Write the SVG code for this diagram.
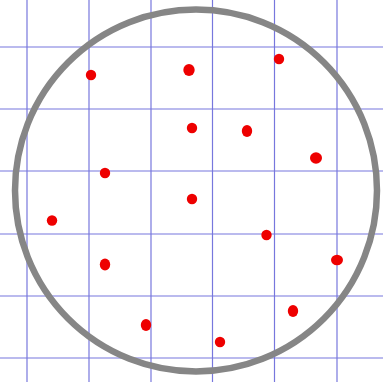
<svg xmlns="http://www.w3.org/2000/svg" width="383" height="382" viewBox="0 0 383 382">
<style>
.g{stroke:#7777dd;stroke-width:1.2;fill:none}
.c{stroke:#868686;stroke-width:6.5;fill:none}
.d{fill:#ee0000}
</style>
<rect width="383" height="382" fill="#ffffff"/>
<g id="grid" class="g">
<line x1="27" y1="0" x2="27" y2="382"/>
<line x1="89" y1="0" x2="89" y2="382"/>
<line x1="151" y1="0" x2="151" y2="382"/>
<line x1="212.5" y1="0" x2="212.5" y2="382"/>
<line x1="274.5" y1="0" x2="274.5" y2="382"/>
<line x1="337" y1="0" x2="337" y2="382"/>
<line x1="0" y1="47" x2="383" y2="47"/>
<line x1="0" y1="109" x2="383" y2="109"/>
<line x1="0" y1="171" x2="383" y2="171"/>
<line x1="0" y1="234" x2="383" y2="234"/>
<line x1="0" y1="296" x2="383" y2="296"/>
<line x1="0" y1="358" x2="383" y2="358"/>
</g>
<g id="circle"><circle class="c" cx="196" cy="190.5" r="181"/></g>
<g id="dots" class="d">
<circle cx="91" cy="75" r="5.2"/>
<ellipse cx="189" cy="70" rx="5.7" ry="6"/>
<circle cx="279" cy="59" r="5.2"/>
<circle cx="192" cy="128" r="5.2"/>
<ellipse cx="247" cy="131" rx="5.2" ry="6"/>
<ellipse cx="316" cy="158" rx="6" ry="5.7"/>
<circle cx="105" cy="173" r="5.2"/>
<circle cx="52" cy="220.5" r="5.2"/>
<circle cx="192" cy="199" r="5.2"/>
<circle cx="266.5" cy="235" r="5.2"/>
<ellipse cx="337" cy="260" rx="6" ry="5.2"/>
<ellipse cx="105" cy="264.5" rx="5.2" ry="6"/>
<ellipse cx="146" cy="325" rx="5.2" ry="6"/>
<circle cx="220" cy="342" r="5.2"/>
<ellipse cx="293" cy="311" rx="5.2" ry="6"/>
</g>
</svg>
